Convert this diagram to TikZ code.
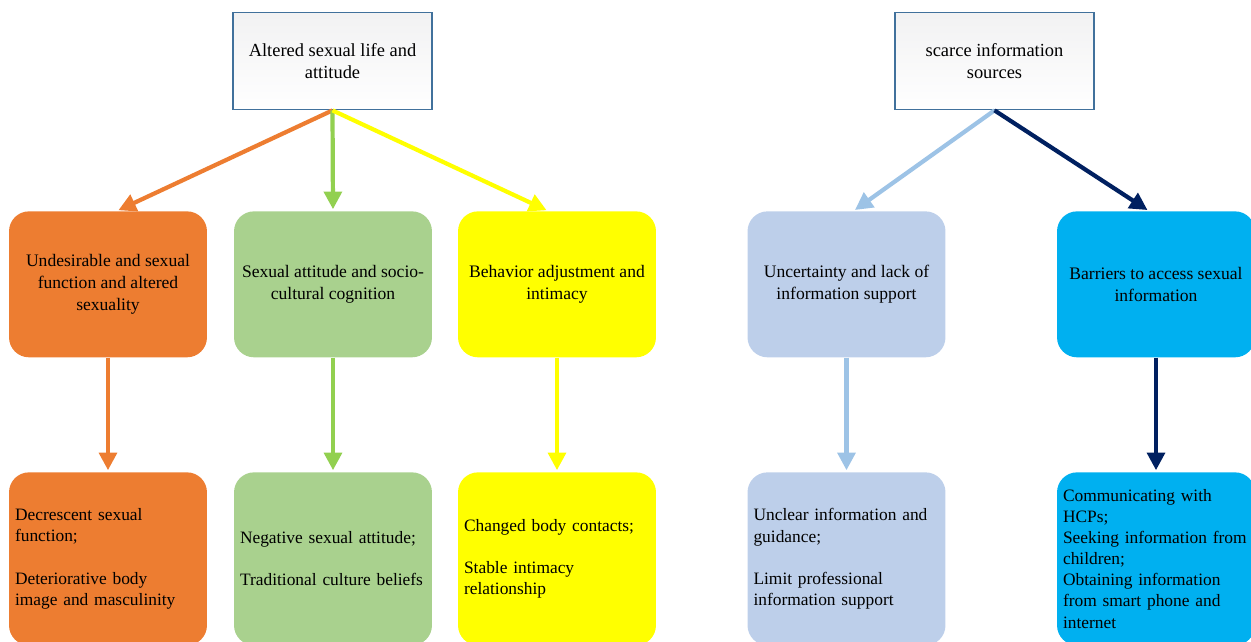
\documentclass[tikz,border=0pt]{standalone}
\usepackage{fontspec}
\setmainfont{Liberation Serif}
\usepackage{tikz}
\usetikzlibrary{arrows.meta}
\usepackage{xcolor}

\definecolor{orgfill}{HTML}{ED7D31}
\definecolor{grnfill}{HTML}{A9D18E}
\definecolor{grnarr}{HTML}{92D050}
\definecolor{ylwfill}{HTML}{FFFF00}
\definecolor{lbfill}{HTML}{BDCFEA}
\definecolor{lbarr}{HTML}{9DC3E6}
\definecolor{cyfill}{HTML}{00B0F0}
\definecolor{navyarr}{HTML}{002060}
\definecolor{topline}{HTML}{41719C}

\tikzset{
  topbox/.style={draw=topline,line width=0.8pt,top color=blue!4!gray!10,bottom color=white,
    minimum width=3.98cm,minimum height=1.94cm,align=center,
    font=\fontsize{10.5}{12.5}\selectfont},
  midbox/.style={rounded corners=0.4cm,minimum width=3.96cm,minimum height=2.92cm,
    align=center,font=\fontsize{10}{12.3}\selectfont},
  lowbox/.style={rounded corners=0.4cm,minimum width=3.96cm,minimum height=3.46cm,
    text width=3.72cm,align=left,inner xsep=0.12cm,font=\fontsize{9.9}{12}\selectfont},
  flowarr/.style={line width=2.4pt,-{Triangle[length=10pt,width=10pt]},shorten >=1pt}
}

\begin{document}
\begin{tikzpicture}[x=0.02cm,y=-0.02cm]
\useasboundingbox (0,0) rectangle (1251,642);

% top themes
\node[topbox,anchor=north] (alt) at (332.5,12) {Altered sexual life and\\attitude};
\node[topbox,anchor=north] (scarce) at (994.5,12) {scarce information\\sources};

% sub-themes
\node[midbox,fill=orgfill,anchor=north] (undes) at (108,211) {Undesirable and sexual\\function and altered\\sexuality};
\node[midbox,fill=grnfill,anchor=north] (attit) at (333,211) {Sexual attitude and socio-\\cultural cognition};
\node[midbox,fill=ylwfill,anchor=north] (behav) at (557,211) {Behavior adjustment and\\intimacy};
\node[midbox,fill=lbfill,anchor=north] (uncert) at (846.5,211) {Uncertainty and lack of\\information support};
\node[midbox,fill=cyfill,anchor=north] (barr) at (1156,211) {Barriers to access sexual\\information};

% codes
\node[lowbox,fill=orgfill,anchor=north] (decr) at (108,472) {Decrescent sexual\\function;\\[12pt]Deteriorative body\\image and masculinity};
\node[lowbox,fill=grnfill,anchor=north] (negat) at (333,472) {Negative sexual attitude;\\[12pt]Traditional culture beliefs};
\node[lowbox,fill=ylwfill,anchor=north] (chang) at (557,472) {Changed body contacts;\\[12pt]Stable intimacy\\relationship};
\node[lowbox,fill=lbfill,anchor=north] (uncl) at (846.5,472) {Unclear information and\\guidance;\\[12pt]Limit professional\\information support};
\node[lowbox,fill=cyfill,anchor=north] (comm) at (1156,472) {Communicating with\\HCPs;\\Seeking information from\\children;\\Obtaining information\\from smart phone and\\internet};

% connectors
\draw[flowarr,orgfill] (alt.south) -- ([xshift=5]undes.north);
\draw[flowarr,grnarr] (alt.south) -- (attit.north);
\draw[flowarr,ylwfill] (alt.south) -- ([xshift=-5]behav.north);
\draw[flowarr,lbarr] (scarce.south) -- ([xshift=4]uncert.north);
\draw[flowarr,navyarr] (scarce.south) -- ([xshift=-4]barr.north);

\draw[flowarr,orgfill] (undes.south) -- (decr.north);
\draw[flowarr,grnarr] (attit.south) -- (negat.north);
\draw[flowarr,ylwfill] (behav.south) -- (chang.north);
\draw[flowarr,lbarr] (uncert.south) -- (uncl.north);
\draw[flowarr,navyarr] (barr.south) -- (comm.north);
\end{tikzpicture}
\end{document}
